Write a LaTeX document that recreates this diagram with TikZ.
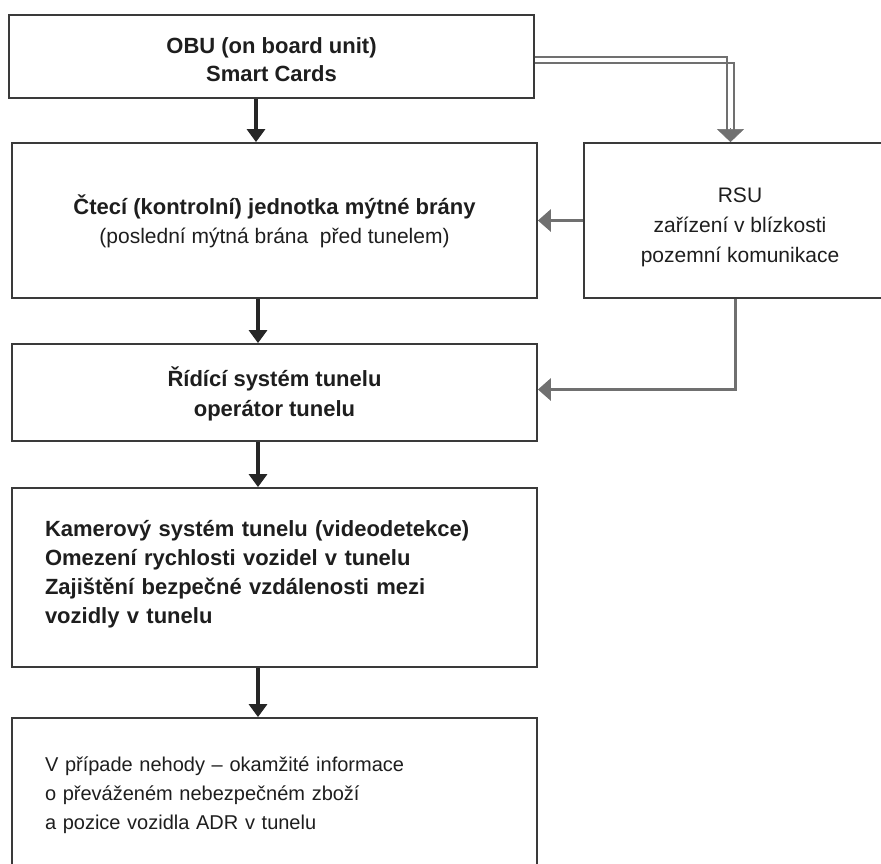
\documentclass[tikz,border=0pt]{standalone}
\usepackage{fontspec}
\setmainfont{Liberation Sans}
\usetikzlibrary{arrows.meta,calc}
\definecolor{boxc}{HTML}{3A3A3A}
\definecolor{arrc}{HTML}{262626}
\definecolor{grc}{HTML}{707070}
\definecolor{txt}{HTML}{1E1E1E}
\begin{document}
\begin{tikzpicture}[x=1pt,y=-1pt,
  box/.style={draw=boxc, line width=1.8pt, fill=white, text=txt, inner sep=0pt,
    font=\fontsize{21}{29}\selectfont},
  barrow/.style={draw=arrc, line width=3.2pt, -{Triangle[width=18pt,length=13pt]}},
  gline/.style={draw=grc, line width=2.4pt},
  garrow/.style={draw=grc, line width=3pt, -{Triangle[width=22pt,length=13pt]}},
]
\useasboundingbox (0,0) rectangle (881,863);
\node[box, minimum width=525pt, minimum height=83pt, align=center,
  font=\bfseries\fontsize{22}{28}\selectfont] (obu) at (271.5,56.5)
  {\rule{0pt}{22pt}OBU (on board unit)\\Smart Cards};
\node[box, minimum width=525pt, minimum height=155pt, align=center] (ctec) at (274.5,220.5)
  {\rule{0pt}{22pt}{\bfseries\fontsize{22}{29}\selectfont Čtecí (kontrolní) jednotka mýtné brány}\\(poslední mýtná brána~ před tunelem)};
\node[box, minimum width=312pt, minimum height=155pt, align=center, font=\fontsize{21}{30}\selectfont] (rsu) at (740,220.5)
  {\rule{0pt}{29pt}RSU\\zařízení v blízkosti\\pozemní komunikace};
\node[box, minimum width=525pt, minimum height=97pt, align=center,
  font=\bfseries\fontsize{22}{30}\selectfont] (ridi) at (274.5,392.5)
  {\rule{0pt}{22pt}Řídící systém tunelu\\operátor tunelu};
\node[box, minimum width=525pt, minimum height=179pt, text width=459pt, align=left,
  font=\bfseries\fontsize{22}{29}\selectfont] (kam) at (274.5,577.5)
  {Kamerový systém tunelu (videodetekce)\\Omezení rychlosti vozidel v tunelu\\Zajištění bezpečné vzdálenosti mezi\\vozidly v tunelu\rule[-11pt]{0pt}{11pt}};
\node[box, minimum width=525pt, minimum height=154pt, text width=459pt, align=left,
  font=\fontsize{20}{29}\selectfont] (neh) at (274.5,795)
  {V případe nehody – okamžité informace\\o převáženém nebezpečném zboží\\a pozice vozidla ADR v tunelu};
\coordinate (ax1) at (256,0);
\coordinate (ax2) at (258,0);
\draw[barrow] (obu.south -| ax1) -- (ctec.north -| ax1);
\draw[barrow] (ctec.south -| ax2) -- (ridi.north -| ax2);
\draw[barrow] (ridi.south -| ax2) -- (kam.north -| ax2);
\draw[barrow] (kam.south -| ax2) -- (neh.north -| ax2);
\coordinate (dl1) at (727,0);
\coordinate (dl2) at (734,0);
\coordinate (dlm) at (730.5,0);
\draw[gline] ([yshift=-0.5pt]obu.east) -| ($(rsu.north -| dl1)+(0,-12)$);
\draw[gline] ([yshift=-6.5pt]obu.east) -| ($(rsu.north -| dl2)+(0,-12)$);
\draw[draw=grc, line width=0.6pt, -{Triangle[width=27pt,length=13pt]}] ($(rsu.north -| dlm)+(0,-14)$) -- (rsu.north -| dlm);
\draw[garrow] (rsu.west) -- (ctec.east);
\coordinate (rv) at (735,0);
\draw[garrow] (rsu.south -| rv) |- ([yshift=3pt]ridi.east);
\end{tikzpicture}
\end{document}
